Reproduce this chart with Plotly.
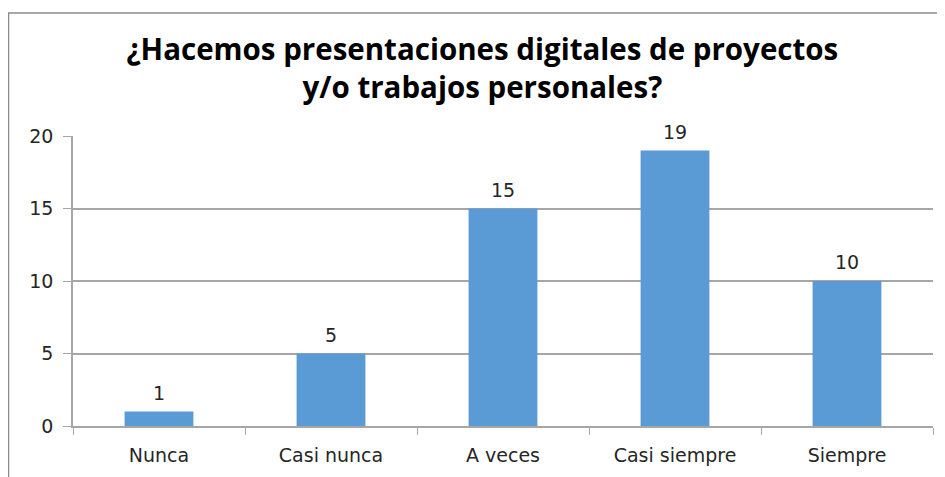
import plotly.graph_objects as go

categories = ["Nunca", "Casi nunca", "A veces", "Casi siempre", "Siempre"]
values = [1, 5, 15, 19, 10]
y_ticks = [0, 5, 10, 15, 20]

W, H = 945, 477
L, R, T, B = 65, 20, 128, 59
pw = W - L - R
ph = H - T - B

def px_x(x):
    return (x - L) / pw

def px_y(y):
    return (H - B - y) / ph

fig = go.Figure(go.Bar(
    x=categories, y=values,
    marker=dict(color="#5B9BD5", line=dict(width=0)),
    width=0.4,
))

for c, v in zip(categories, values):
    fig.add_annotation(x=c, y=v, text=str(v), showarrow=False,
                       yanchor="bottom", yshift=6,
                       font=dict(family="DejaVu Sans", size=19, color="#262626"))

fig.update_layout(
    width=W, height=H,
    margin=dict(l=L, r=R, t=T, b=B),
    paper_bgcolor="white", plot_bgcolor="white",
    showlegend=False,
    title=dict(
        text="<b>¿Hacemos presentaciones digitales de proyectos<br>y/o trabajos personales?</b>",
        x=0.502, xanchor="center", y=1 - 52 / H, yanchor="middle",
        font=dict(family="Open Sans", size=29.5, color="#000000"),
    ),
    font=dict(family="DejaVu Sans", size=19, color="#262626"),
    shapes=[dict(type="rect", xref="paper", yref="paper",
                 x0=px_x(0.5), x1=px_x(960), y0=px_y(H + 20), y1=px_y(5),
                 line=dict(color="#8a8a8a", width=1.5), fillcolor="rgba(0,0,0,0)",
                 layer="below")],
)

fig.update_xaxes(
    showline=True, linecolor="#a6a6a6", linewidth=1.5,
    ticks="outside", tickson="boundaries", ticklen=7, tickcolor="#a6a6a6",
    ticklabelstandoff=11,
    showgrid=False, tickfont=dict(family="DejaVu Sans", size=19, color="#262626"),
)
fig.update_yaxes(
    range=[0, 20], tickvals=y_ticks,
    showline=True, linecolor="#a6a6a6", linewidth=1.5,
    ticks="outside", ticklen=8, tickcolor="#a6a6a6",
    ticklabelstandoff=6,
    showgrid=True, gridcolor="#a6a6a6", gridwidth=1.5,
    zeroline=False, tickfont=dict(family="DejaVu Sans", size=19, color="#262626"),
)

fig.write_html("out.html")
